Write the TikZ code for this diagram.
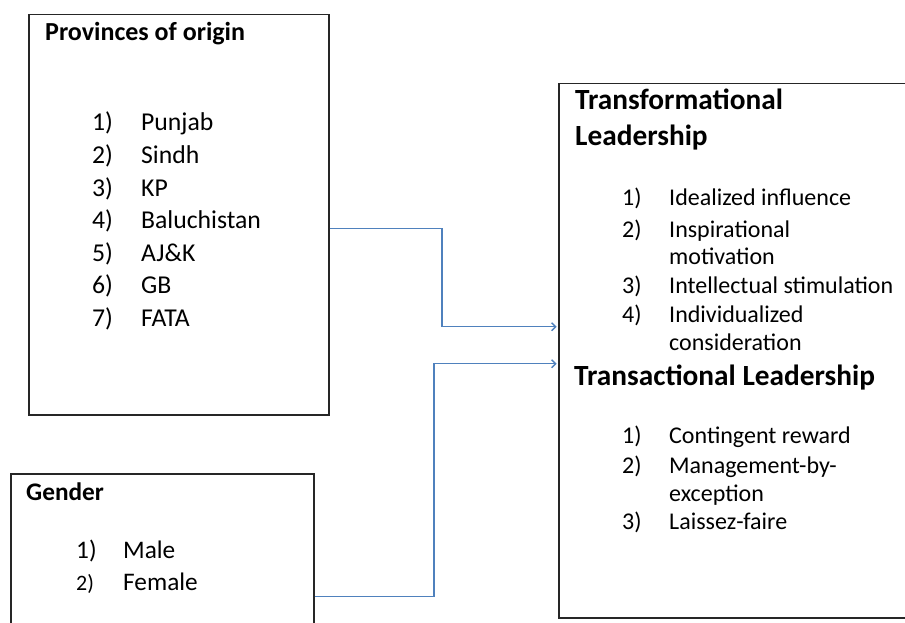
\documentclass[tikz,border=0pt]{standalone}
\usepackage{fontspec}
\setmainfont{Carlito}
\usetikzlibrary{arrows.meta}
\definecolor{connblue}{HTML}{4F81BD}
\begin{document}
\begin{tikzpicture}[x=1pt,y=-1pt,
  box/.style={draw=black!85,line width=1.5pt,rectangle,inner sep=0pt,anchor=north west},
  conn/.style={draw=connblue,line width=1.4pt,-{Straight Barb[length=4pt,width=8pt]}},
  txt/.style={anchor=base west,inner sep=0pt,text=black},
  ttl/.style={txt,font=\fontsize{26}{31}\selectfont\bfseries},
  big/.style={txt,font=\fontsize{29.3}{35}\selectfont\bfseries},
  lst/.style={txt,font=\fontsize{25.7}{31}\selectfont},
  rl/.style={txt,font=\fontsize{24}{29}\selectfont},
  gl/.style={txt,font=\fontsize{25.3}{30}\selectfont}]
\useasboundingbox (0,0) rectangle (905,623);
\fill[white] (0,0) rectangle (905,623);
% boxes
\node[box,minimum width=300pt,minimum height=400pt] (pv) at (28,14) {};
\node[box,minimum width=303pt,minimum height=170pt] (gd) at (10,473) {};
\node[box,minimum width=370pt,minimum height=534pt] (tl) at (558,83) {};
% provinces
\node[ttl] (pvt) at (45,41) {Provinces of origin};
\foreach \n/\t/\y in {1/Punjab/131,2/Sindh/163.5,3/KP/196,4/Baluchistan/228.5,5/AJ\&K/261,6/GB/293.5,7/FATA/326}{
  \node[lst] (pn\n) at (92,\y) {\n)};
  \node[lst] (pt\n) at (141,\y) {\t};
}
% gender
\node[ttl,font=\fontsize{25.3}{30}\selectfont\bfseries] (gdt) at (26,500) {Gender};
\node[gl] (gn1) at (76,558) {1)};
\node[gl] (gt1) at (123,558) {Male};
\node[gl,font=\fontsize{22}{30}\selectfont] (gn2) at (76,590) {2)};
\node[gl] (gt2) at (123,590) {Female};
% right box
\node[big] (h1a) at (575,110) {Transformational};
\node[big] (h1b) at (575,146) {Leadership};
\node[rl] (r1n) at (622,205) {1)};
\node[rl] (r1t) at (669,205) {Idealized influence};
\node[rl] (r2n) at (622,237) {2)};
\node[rl] (r2t) at (669,237) {Inspirational};
\node[rl] (r2u) at (669,264) {motivation};
\node[rl] (r3n) at (622,293) {3)};
\node[rl] (r3t) at (669,293) {Intellectual stimulation};
\node[rl] (r4n) at (622,322) {4)};
\node[rl] (r4t) at (669,322) {Individualized};
\node[rl] (r4u) at (669,350) {consideration};
\node[big] (h2) at (574,385) {Transactional Leadership};
\node[rl] (s1n) at (622,443) {1)};
\node[rl] (s1t) at (669,443) {Contingent reward};
\node[rl] (s2n) at (622,473) {2)};
\node[rl] (s2t) at (669,473) {Management-by-};
\node[rl] (s2u) at (669,501) {exception};
\node[rl] (s3n) at (622,529) {3)};
\node[rl] (s3t) at (669,529) {Laissez-faire};
% connectors
\coordinate (c1) at (442,280);
\coordinate (c2) at (434,480);
\draw[conn,shorten >=1.5pt] ([yshift=-14pt]pv.east) -| (c1) |- ([yshift=24pt]tl.west);
\draw[conn,shorten >=1.5pt] ([yshift=-38pt]gd.east) -| (c2) |- ([yshift=-13pt]tl.west);
\end{tikzpicture}
\end{document}
